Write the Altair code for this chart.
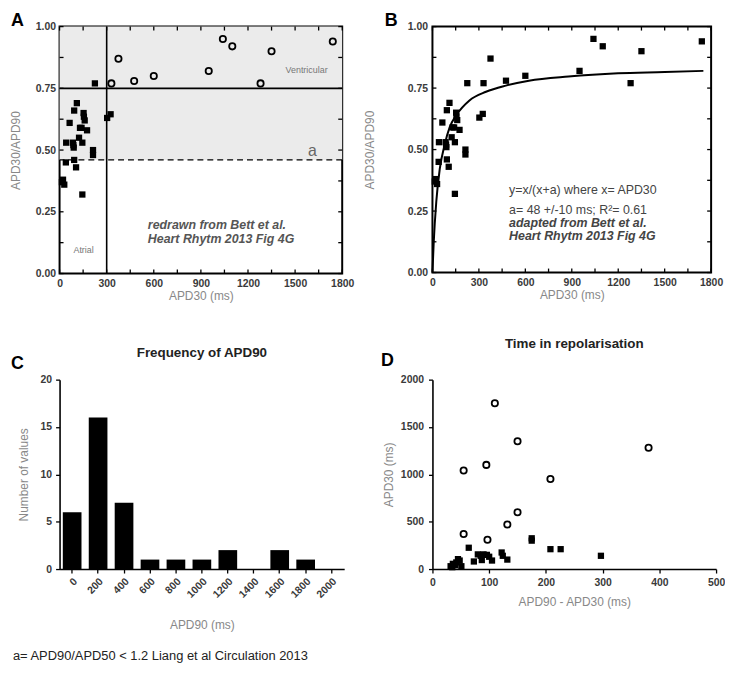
import altair as alt
import pandas as pd

FONT = "Liberation Sans"

# ---------------- data ----------------
# Panels A/B : APD30 (ms) vs APD30/APD90
atrial_apd30 = [225, 110, 93, 153, 155, 160, 64, 130, 140, 175, 124, 145, 42, 85, 90,
                88, 213, 213, 40, 93, 105, 15, 22, 30, 145, 303, 325]
atrial_ratio = [0.77, 0.69, 0.66, 0.65, 0.635, 0.62, 0.61, 0.59, 0.59, 0.58, 0.55, 0.53, 0.53, 0.53, 0.51,
                0.52, 0.50, 0.48, 0.45, 0.46, 0.43, 0.37, 0.38, 0.36, 0.32, 0.63, 0.645]
vent_apd30 = [330, 375, 475, 600, 950, 1040, 1100, 1280, 1350, 1740]
vent_ratio = [0.77, 0.87, 0.78, 0.80, 0.82, 0.95, 0.92, 0.77, 0.90, 0.94]

# fitted curve in panel B
fit_apd30 = [0, 8, 25, 47, 79, 111, 154, 239, 346, 474, 623, 879, 1199, 1500, 1750]
fit_ratio = [0, 0.12, 0.29, 0.42, 0.52, 0.59, 0.64, 0.70, 0.735, 0.76, 0.78, 0.797, 0.81, 0.815, 0.82]

# Panel A thresholds
ratio_a_threshold = 0.46
ratio_vent_threshold = 0.75
apd30_threshold = 300

# Panel C histogram
hist_bins = ["0", "200", "400", "600", "800", "1000", "1200", "1400", "1600", "1800", "2000"]
hist_counts = [6, 16, 7, 1, 1, 1, 2, 0, 2, 1, 0]

# Panel D : APD90-APD30 vs APD30
d_vent_diff = [55, 95, 110, 150, 208, 381, 55, 97, 132, 150]
d_vent_apd30 = [1040, 1100, 1750, 1350, 950, 1280, 370, 310, 470, 600]
d_atr_diff = [64, 175, 175, 208, 226, 297, 80, 90, 96, 87, 73, 105, 122, 124, 132,
              45, 42, 36, 32, 51, 40, 85, 100, 48, 35]
d_atr_apd30 = [225, 325, 300, 210, 210, 140, 155, 155, 150, 95, 80, 90, 175, 140, 100,
               105, 70, 55, 30, 30, 40, 140, 130, 90, 20]

# axis tick values
apd30_labels = [0, 300, 600, 900, 1200, 1500, 1800]
apd30_ticks = [0, 150, 300, 450, 600, 750, 900, 1050, 1200, 1350, 1500, 1650, 1800]
ratio_labels = [0, 0.25, 0.5, 0.75, 1.0]
ratio_ticks = [0, 0.125, 0.25, 0.375, 0.5, 0.625, 0.75, 0.875, 1.0]
count_labels = [0, 5, 10, 15, 20]
diff_labels = [0, 100, 200, 300, 400, 500]
apd30_d_labels = [0, 500, 1000, 1500, 2000]

# ---------------- styles ----------------
LBL = dict(labelFont=FONT, labelFontSize=10.5, labelFontWeight="bold", labelColor="#3a3a3a",
           titleFont=FONT, titleFontSize=12, titleFontWeight="normal", titleColor="#888",
           labelFlush=False, labelOverlap=False, grid=False)


def boxed_axis(values, title, pad, tpad, fmt="d"):
    return alt.Axis(values=values, title=title, ticks=False, tickSize=0, domain=False,
                    labelPadding=pad, titlePadding=tpad, format=fmt, **LBL)


def open_axis(values, title, pad, tpad, **extra):
    return alt.Axis(values=values, title=title, ticks=True, tickSize=4, tickColor="black",
                    tickWidth=1.3, domain=True, domainColor="black", domainWidth=1.6,
                    labelPadding=pad, titlePadding=tpad, **LBL, **extra)


def text_layer(text, x, y, **kw):
    return alt.Chart(pd.DataFrame({"t": [text]})).mark_text(font=FONT, **kw).encode(
        text="t:N", x=alt.value(x), y=alt.value(y))


def frame_ticks(X, Y, W, H, L=4):
    dx = pd.DataFrame({"x": apd30_ticks})
    dy = pd.DataFrame({"y": ratio_ticks})
    st = dict(color="black", strokeWidth=1.3)
    out = []
    for y0, y1 in [(H, H - L), (0, L)]:
        out.append(alt.Chart(dx).mark_rule(**st).encode(
            x=X("x"), y=alt.value(y0), y2=alt.value(y1)))
    for x0, x1 in [(0, L), (W, W - L)]:
        out.append(alt.Chart(dy).mark_rule(**st).encode(
            y=Y("y"), x=alt.value(x0), x2=alt.value(x1)))
    return out


atrial_df = pd.DataFrame({"x": atrial_apd30, "y": atrial_ratio})
vent_df = pd.DataFrame({"x": vent_apd30, "y": vent_ratio})
all_df = pd.DataFrame({"x": atrial_apd30 + vent_apd30, "y": atrial_ratio + vent_ratio})
fit_df = pd.DataFrame({"x": fit_apd30, "y": fit_ratio})

SQ = dict(size=40, color="black", opacity=1)
CI = dict(shape="circle", size=40, filled=False, stroke="black", strokeWidth=1.8, opacity=1)

# ---------------- panel A ----------------
WA, HA = 285, 249
xsA = alt.Scale(domain=[0, 1800], nice=False)
ysA = alt.Scale(domain=[0, 1], nice=False)
axAx = boxed_axis(apd30_labels, "APD30 (ms)", 5, 2)
axAy = boxed_axis(ratio_labels, "APD30/APD90", 4, 13, ".2f")


def XA(f):
    return alt.X(f"{f}:Q", scale=xsA, axis=axAx)


def YA(f):
    return alt.Y(f"{f}:Q", scale=ysA, axis=axAy)


region_df = pd.DataFrame({"x": [0], "x2": [1800], "y": [ratio_a_threshold], "y2": [1.0]})
shade = alt.Chart(region_df).mark_rect(color="#ebebeb").encode(
    x=XA("x"), x2="x2:Q", y=YA("y"), y2="y2:Q")
h75 = alt.Chart(pd.DataFrame({"y": [ratio_vent_threshold]})).mark_rule(
    color="black", strokeWidth=1.8).encode(y=YA("y"))
h46 = alt.Chart(pd.DataFrame({"y": [ratio_a_threshold]})).mark_rule(
    color="black", strokeWidth=1.3, strokeDash=[6, 4]).encode(y=YA("y"))
v300 = alt.Chart(pd.DataFrame({"x": [apd30_threshold]})).mark_rule(
    color="black", strokeWidth=1.6).encode(x=XA("x"))
ptsA_sq = alt.Chart(atrial_df).mark_square(**SQ).encode(x=XA("x"), y=YA("y"))
ptsA_ci = alt.Chart(vent_df).mark_point(**CI).encode(x=XA("x"), y=YA("y"))

annA = pd.DataFrame({
    "x": [1573, 1610, 153, 562, 562],
    "y": [0.826, 0.497, 0.094, 0.195, 0.141],
    "t": ["Ventricular", "a", "Atrial", "redrawn from Bett et al.", "Heart Rhytm 2013  Fig 4G"],
})
tA1 = alt.Chart(annA.iloc[[0]]).mark_text(font=FONT, fontSize=9, color="#777").encode(
    x=XA("x"), y=YA("y"), text="t:N")
tA2 = alt.Chart(annA.iloc[[1]]).mark_text(font=FONT, fontSize=16, color="#666").encode(
    x=XA("x"), y=YA("y"), text="t:N")
tA3 = alt.Chart(annA.iloc[[2]]).mark_text(font=FONT, fontSize=9, color="#777").encode(
    x=XA("x"), y=YA("y"), text="t:N")
tA4 = alt.Chart(annA.iloc[[3, 4]]).mark_text(font=FONT, fontSize=12.5, color="#555", fontStyle="italic",
                                             fontWeight="bold", align="left").encode(
    x=XA("x"), y=YA("y"), text="t:N")

panelA = alt.layer(
    shade, h75, h46, v300, *frame_ticks(XA, YA, WA, HA),
    ptsA_sq, ptsA_ci, tA1, tA2, tA3, tA4,
    text_layer("A", -49, -15, fontSize=18, fontWeight="bold", align="left", baseline="top", color="black"),
).properties(width=WA, height=HA, view=alt.ViewBackground(stroke="black", strokeWidth=2))

# ---------------- panel B ----------------
WB, HB = 281, 248
xsB = alt.Scale(domain=[0, 1800], nice=False)
ysB = alt.Scale(domain=[0, 1], nice=False)
axBx = boxed_axis(apd30_labels, "APD30 (ms)", 5, 2)
axBy = boxed_axis(ratio_labels, "APD30/APD90", 5, 31, ".2f")


def XB(f):
    return alt.X(f"{f}:Q", scale=xsB, axis=axBx)


def YB(f):
    return alt.Y(f"{f}:Q", scale=ysB, axis=axBy)


curve = alt.Chart(fit_df).mark_line(color="black", strokeWidth=2, interpolate="monotone").encode(
    x=XB("x"), y=YB("y"), order="x:Q")
ptsB = alt.Chart(all_df).mark_square(**SQ).encode(x=XB("x"), y=YB("y"))
annB = pd.DataFrame({
    "x": [495, 495, 495, 495],
    "y": [0.337, 0.256, 0.202, 0.148],
    "t": ["y=x/(x+a) where x= APD30", "a= 48 +/-10 ms; R\u00b2= 0.61",
          "adapted from Bett et al.", "Heart Rhytm 2013  Fig 4G"],
})
tB1 = alt.Chart(annB.iloc[[0, 1]]).mark_text(font=FONT, fontSize=12.5, color="#444", align="left").encode(
    x=XB("x"), y=YB("y"), text="t:N")
tB2 = alt.Chart(annB.iloc[[2, 3]]).mark_text(font=FONT, fontSize=12.5, color="#444", align="left",
                                             fontStyle="italic", fontWeight="bold").encode(
    x=XB("x"), y=YB("y"), text="t:N")

panelB = alt.layer(
    *frame_ticks(XB, YB, WB, HB), curve, ptsB, tB1, tB2,
    text_layer("B", -48, -15, fontSize=18, fontWeight="bold", align="left", baseline="top", color="black"),
).properties(width=WB, height=HB, view=alt.ViewBackground(stroke="black", strokeWidth=2))

# ---------------- panel C ----------------
WC, HC = 287, 191
hist_df = pd.DataFrame({"bin": hist_bins, "count": hist_counts})
bars = alt.Chart(hist_df).mark_bar(color="black").encode(
    x=alt.X("bin:N", sort=hist_bins,
            scale=alt.Scale(paddingInner=0.28, paddingOuter=0.125),
            axis=open_axis(hist_bins, "APD90 (ms)", 3, 20, labelAngle=315)),
    y=alt.Y("count:Q", scale=alt.Scale(domain=[0, 20], nice=False),
            axis=open_axis(count_labels, "Number of values", 4, 10)),
)
panelC = alt.layer(
    bars,
    text_layer("Frequency of APD90", WC / 2, -27, fontSize=13.5, fontWeight="bold", color="#222"),
    text_layer("C", -49, -25, fontSize=18, fontWeight="bold", align="left", baseline="top", color="black"),
    text_layer("a= APD90/APD50 < 1.2 Liang et al Circulation 2013", -47, 279, fontSize=13,
               align="left", color="#222"),
).properties(width=WC, height=HC)

# ---------------- panel D ----------------
WD, HD = 286, 191
xsD = alt.Scale(domain=[0, 500], nice=False)
ysD = alt.Scale(domain=[0, 2000], nice=False)
axDx = open_axis(diff_labels, "APD90 - APD30 (ms)", 5, 8, format="d")
axDy = open_axis(apd30_d_labels, "APD30 (ms)", 5, 5, format="d")
dv_df = pd.DataFrame({"x": d_vent_diff, "y": d_vent_apd30})
da_df = pd.DataFrame({"x": d_atr_diff, "y": d_atr_apd30})
ptsD_sq = alt.Chart(da_df).mark_square(**SQ).encode(
    x=alt.X("x:Q", scale=xsD, axis=axDx), y=alt.Y("y:Q", scale=ysD, axis=axDy))
ptsD_ci = alt.Chart(dv_df).mark_point(**CI).encode(
    x=alt.X("x:Q", scale=xsD, axis=axDx), y=alt.Y("y:Q", scale=ysD, axis=axDy))
panelD = alt.layer(
    ptsD_sq, ptsD_ci,
    text_layer("Time in repolarisation", WD / 2, -36, fontSize=13.5, fontWeight="bold", color="#222"),
    text_layer("D", -52, -28, fontSize=18, fontWeight="bold", align="left", baseline="top", color="black"),
).properties(width=WD, height=HD)

chart = alt.concat(
    panelA, panelB, panelC, panelD, columns=2, bounds="flush",
    spacing=alt.RowColnumber(row=107, column=89),
).properties(padding=0, background="white").configure_view(stroke=None)

chart.save("out.html", embed_options={"renderer": "svg", "actions": False})
